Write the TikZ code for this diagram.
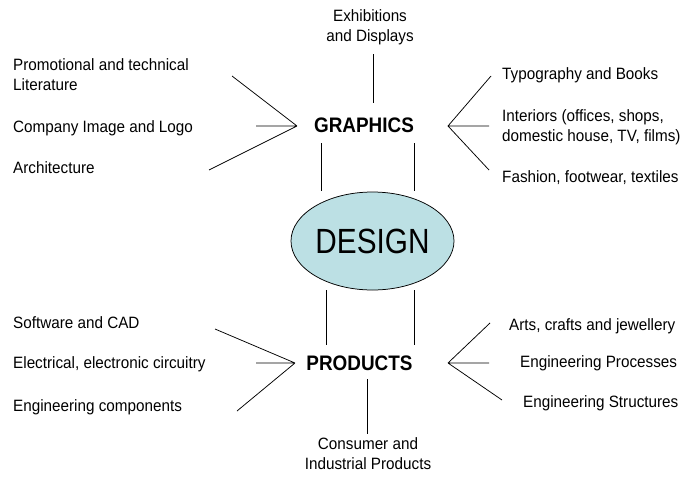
\documentclass[tikz,border=0pt]{standalone}
\usepackage{fontspec}
\setmainfont{Liberation Sans}
\newfontfamily\itemfont{Liberation Sans}[FakeStretch=0.93]
\newfontfamily\headfont{Liberation Sans}[FakeStretch=0.9]
\newfontfamily\designfont{Liberation Sans}[FakeStretch=0.85]
\usetikzlibrary{shapes.geometric}
\definecolor{designfill}{RGB}{188,224,228}

\begin{document}
\begin{tikzpicture}[x=1pt,y=-1pt,
		item/.style={font=\itemfont\fontsize{16.4}{20}\selectfont, inner sep=0pt, align=left},
		head/.style={font=\headfont\fontsize{21}{24}\selectfont\bfseries, inner sep=0pt},
		link/.style={line width=0.75pt, black}]
	\useasboundingbox (0,0) rectangle (682,477);
	% graphics side
	\node[item, anchor=west] (promo) at (13,75) {Promotional and technical\\Literature};
	\node[item, anchor=west] (logo) at (13,128) {Company Image and Logo};
	\node[item, anchor=west] (arch) at (13,168) {Architecture};
	\node[item, align=center] (exhib) at (370,27) {Exhibitions\\and Displays};
	\node[head] (graphics) at (364,125) {GRAPHICS};
	\node[item, anchor=west] (typo) at (502,75) {Typography and Books};
	\node[item, anchor=west] (inter) at (502,127) {Interiors (offices, shops,\\domestic house, TV, films)};
	\node[item, anchor=west] (fashion) at (502,178) {Fashion, footwear, textiles};
	% centre
	\node[ellipse, draw, line width=0.75pt, fill=designfill, minimum width=163pt, minimum height=98pt, inner sep=0pt,
		font=\designfont\fontsize{35}{40}\selectfont] (design) at (372.5,241) {DESIGN\hspace{12pt}};
	% products side
	\node[item, anchor=west] (soft) at (13,323) {Software and CAD};
	\node[item, anchor=west] (elec) at (13,364) {Electrical, electronic circuitry};
	\node[item, anchor=west] (comp) at (13,407) {Engineering components};
	\node[head] (products) at (359.5,363) {PRODUCTS};
	\node[item, anchor=west] (arts) at (509,326) {Arts, crafts and jewellery};
	\node[item, anchor=west] (proc) at (520,363) {Engineering Processes};
	\node[item, anchor=west] (struct) at (523,403) {Engineering Structures};
	\node[item, align=center] (consumer) at (368,454) {Consumer and\\Industrial Products};

	\coordinate (gl) at (297,126);
	\coordinate (gl1) at (232,76);
	\coordinate (gl2) at (256,126);
	\coordinate (gl3) at (209,170);
	\coordinate (gr) at (448,126);
	\coordinate (gr1) at (491,76);
	\coordinate (gr2) at (489,126);
	\coordinate (gr3) at (489,170);
	\coordinate (pl) at (295,363);
	\coordinate (pl1) at (215,329);
	\coordinate (pl2) at (256,363);
	\coordinate (pl3) at (237,411);
	\coordinate (pr) at (448,363);
	\coordinate (pr1) at (490,323);
	\coordinate (pr2) at (489,363);
	\coordinate (pr3) at (502,400);
	\coordinate (ex1) at (373,54);
	\coordinate (ex2) at (373,103);
	\coordinate (ga1) at (321,143);
	\coordinate (ga2) at (321,191);
	\coordinate (gb1) at (414,143);
	\coordinate (gb2) at (414,191);
	\coordinate (pa1) at (326,290);
	\coordinate (pa2) at (326,345);
	\coordinate (pb1) at (414,290);
	\coordinate (pb2) at (414,345);
	\coordinate (co1) at (367,379);
	\coordinate (co2) at (367,434);

	\draw[link] (gl) -- (gl1) (gl) -- (gl2) (gl) -- (gl3);
	\draw[link] (gr) -- (gr1) (gr) -- (gr2) (gr) -- (gr3);
	\draw[link] (pl) -- (pl1) (pl) -- (pl2) (pl) -- (pl3);
	\draw[link] (pr) -- (pr1) (pr) -- (pr2) (pr) -- (pr3);
	\draw[link] (ex1) -- (ex2);
	\draw[link] (ga1) -- (ga2) (gb1) -- (gb2);
	\draw[link] (pa1) -- (pa2) (pb1) -- (pb2);
	\draw[link] (co1) -- (co2);
\end{tikzpicture}
\end{document}
